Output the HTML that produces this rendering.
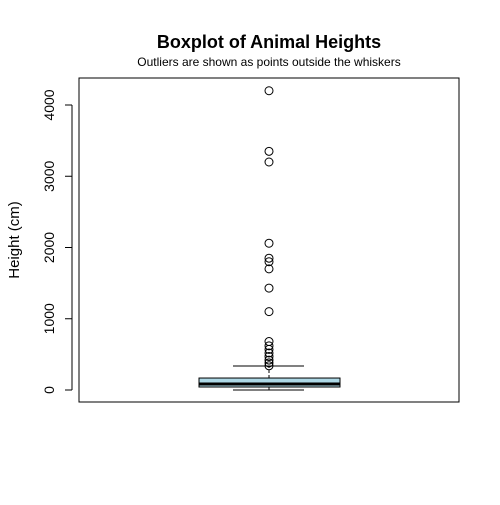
<!DOCTYPE html>
<html><head><meta charset="utf-8"><style>body{margin:0;background:#fff}svg{font-family:"Liberation Sans",Arial,sans-serif}</style></head>
<body>
<svg id="c" width="500" height="500">
<rect width="500" height="500" fill="#fff"/>
<text x="269" y="48" text-anchor="middle" font-size="18" font-weight="bold">Boxplot of Animal Heights</text>
<text x="269" y="66" text-anchor="middle" font-size="12">Outliers are shown as points outside the whiskers</text>
<rect x="79" y="78" width="380" height="324" fill="none" stroke="#000"/>
<text transform="translate(19,240) rotate(-90)" text-anchor="middle" font-size="15">Height (cm)</text>
<g id="ax"></g>
<g id="pl"></g>
</svg>
<script>
const ticks=[0,1000,2000,3000,4000];
const stats=[0,42,85,168,337]; // min, q1, median, q3, max whisker
const outliers=[4200,3350,3200,2060,1850,1800,1700,1430,1100,680,620,570,520,470,420,380,340];
const NS="http://www.w3.org/2000/svg";
function y(v){return 390-v*0.07125;}
function mk(t,a,p){const e=document.createElementNS(NS,t);for(const k in a)e.setAttribute(k,a[k]);p.appendChild(e);return e;}
const ax=document.getElementById('ax'),pl=document.getElementById('pl');
mk('line',{x1:72,x2:72,y1:y(ticks[0]),y2:y(ticks[ticks.length-1]),stroke:'#000'},ax);
ticks.forEach(t=>{
 const l=mk('line',{x1:65,x2:72,y1:y(t),y2:y(t),stroke:'#000'},ax);
 
 
 const tx=mk('text',{transform:`translate(54,${y(t)}) rotate(-90)`,'text-anchor':'middle','font-size':'14'},ax);
 tx.textContent=t;
 
 
});
const cx=269;
mk('line',{x1:cx,x2:cx,y1:y(stats[0]),y2:y(stats[1]),stroke:'#000','stroke-dasharray':'3,2'},pl);
mk('line',{x1:cx,x2:cx,y1:y(stats[3]),y2:y(stats[4]),stroke:'#000','stroke-dasharray':'3,2'},pl);
const lc=mk('line',{x1:233,x2:304,y1:y(stats[0]),y2:y(stats[0]),stroke:'#000'},pl);


const uc=mk('line',{x1:233,x2:304,y1:y(stats[4]),y2:y(stats[4]),stroke:'#000'},pl);


const b=mk('rect',{x:199,width:141,y:y(stats[3]),height:y(stats[1])-y(stats[3]),fill:'#add8e6',stroke:'#000'},pl);


const m=mk('line',{x1:199,x2:340,y1:y(stats[2]),y2:y(stats[2]),stroke:'#000','stroke-width':3},pl);


outliers.forEach(v=>{
 const c=mk('circle',{cx:cx,cy:y(v),r:4,fill:'none',stroke:'#000'},pl);
 
 
});
</script>
</body></html>
